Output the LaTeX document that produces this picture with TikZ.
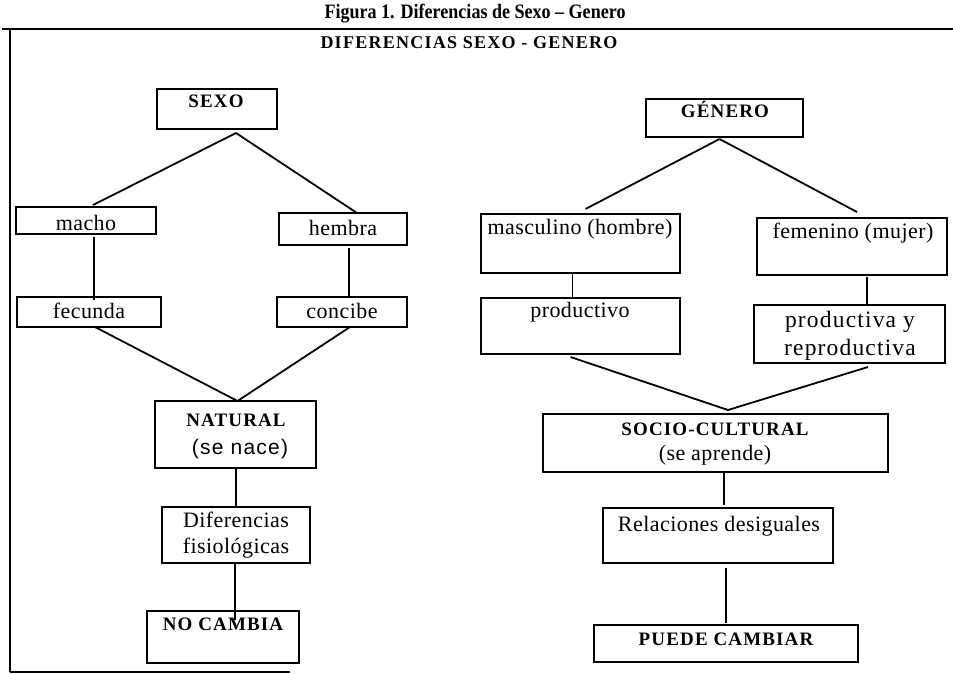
\documentclass[tikz,border=0pt]{standalone}
\usepackage{fontspec}
\usepackage{graphicx}
\setmainfont{Liberation Serif}
\newfontfamily\bodyf[LetterSpace=2]{Liberation Serif}
\newfontfamily\prodf[LetterSpace=5]{Liberation Serif}
\newfontfamily\capsf[LetterSpace=6]{Liberation Serif}
\newfontfamily\subf[LetterSpace=7]{Liberation Serif}
\newfontfamily\sansf[LetterSpace=6]{Liberation Sans}
\usetikzlibrary{fit}
\begin{document}
\begin{tikzpicture}[x=1pt,y=-1pt,
  box/.style={draw, line width=1.8pt, inner sep=0pt, outer sep=0pt},
  conn/.style={line width=1.8pt},
  txt/.style={inner sep=0pt, outer sep=0pt, anchor=base, font=\bodyf\fontsize{22}{26}\selectfont},
  ptxt/.style={inner sep=0pt, outer sep=0pt, anchor=base, font=\prodf\fontsize{23.5}{27}\selectfont},
  capt/.style={inner sep=0pt, outer sep=0pt, anchor=base, font=\capsf\bfseries\fontsize{19}{22}\selectfont},
  stxt/.style={inner sep=0pt, outer sep=0pt, anchor=base, font=\sansf\fontsize{21}{25}\selectfont}]
\useasboundingbox (0,0) rectangle (953,674);

% titles
\node[inner sep=0pt, anchor=base, font=\bfseries\fontsize{20.5}{24}\selectfont] (title) at (475,19) {\scalebox{0.88}[1]{Figura 1. Diferencias de Sexo – Genero}};
\node[inner sep=0pt, anchor=base, font=\subf\bfseries\fontsize{18}{21}\selectfont] (subtitle) at (469,49) {DIFERENCIAS SEXO - GENERO};

% frame
\coordinate (ftl) at (10,29);
\coordinate (ftr) at (953,29);
\coordinate (fts) at (2,29);
\coordinate (fbl) at (10,672);
\coordinate (fbr) at (290,672);
\draw[line width=2.4pt] (fts) -- (ftr);
\draw[line width=2.8pt] (ftl) -- (fbl);
\draw[line width=2pt] (fbl) -- (fbr);

% left tree boxes
\node[box, fit={(157,89) (277,129)}] (sexo) {};
\node[box, fit={(16,207) (156,234)}] (macho) {};
\node[box, fit={(279,213) (407,245)}] (hembra) {};
\node[box, fit={(17,297) (161,327)}] (fecunda) {};
\node[box, fit={(277,297) (407,327)}] (concibe) {};
\node[box, fit={(155,401) (316,468)}] (natural) {};
\node[box, fit={(162,507) (310,563)}] (dif) {};
\node[box, fit={(147,611) (299,663)}] (nocambia) {};

% right tree boxes
\node[box, fit={(646,99) (803,137)}] (genero) {};
\node[box, fit={(481,214) (680,273)}] (masc) {};
\node[box, fit={(757,218) (947,275)}] (fem) {};
\node[box, fit={(481,298) (680,354)}] (prodvo) {};
\node[box, fit={(754,305) (945,363)}] (prodva) {};
\node[box, fit={(543,414) (888,472)}] (socio) {};
\node[box, fit={(603,508) (833,563)}] (rel) {};
\node[box, fit={(594,625) (858,662)}] (puede) {};

% texts left
\node[capt] (sexoT) at (216,108) {SEXO};
\node[txt] (machoT) at (86,230) {macho};
\node[txt] (hembraT) at (343,235) {hembra};
\node[txt] (fecundaT) at (89,318) {fecunda};
\node[txt] (concibeT) at (342,318) {concibe};
\node[capt] (naturalT) at (236,426) {NATURAL};
\node[stxt] (naceT) at (240,454) {(se nace)};
\node[txt] (difT1) at (236,527) {Diferencias};
\node[txt] (difT2) at (236,553) {fisiológicas};
\node[capt] (nocambiaT) at (223,630) {NO CAMBIA};

% texts right
\node[capt] (generoT) at (725,118) {GÉNERO};
\node[txt] (mascT) at (580,234) {masculino (hombre)};
\node[txt] (femT) at (853,238) {femenino (mujer)};
\node[txt] (prodvoT) at (580,317) {productivo};
\node[ptxt] (prodvaT1) at (850,327) {productiva y};
\node[ptxt] (prodvaT2) at (850,355) {reproductiva};
\node[capt] (socioT) at (715,435) {SOCIO-CULTURAL};
\node[txt] (aprendeT) at (715,460) {(se aprende)};
\node[txt] (relT) at (719,531) {Relaciones desiguales};
\node[capt] (puedeT) at (726,645) {PUEDE CAMBIAR};

% connectors left
\draw[conn] ([xshift=19pt,yshift=-4pt]sexo.south) -- ([xshift=7pt,yshift=2pt]macho.north);
\draw[conn] ([xshift=19pt,yshift=-4pt]sexo.south) -- ([xshift=14pt]hembra.north);
\draw[conn] ([xshift=8pt,yshift=-3pt]macho.south) -- ([xshift=8pt,yshift=-3pt]macho.south |- fecunda.north);
\draw[conn] ([xshift=6pt,yshift=-3pt]hembra.south) -- ([xshift=6pt]hembra.south |- concibe.north);
\draw[conn] ([xshift=6pt]fecunda.south) -- ([xshift=2pt]natural.north);
\draw[conn] ([xshift=8pt]concibe.south) -- ([xshift=2pt]natural.north);
\draw[conn] ([xshift=0.5pt]natural.south) -- ([xshift=0.5pt]natural.south |- dif.north);
\draw[conn] ([xshift=-1pt]dif.south) -- ([xshift=-1pt,yshift=-9pt]dif.south |- nocambia.north);

% connectors right
\draw[conn] ([xshift=-5pt,yshift=-2pt]genero.south) -- ([xshift=5pt,yshift=5pt]masc.north);
\draw[conn] ([xshift=-5pt,yshift=-2pt]genero.south) -- ([xshift=5pt,yshift=6pt]fem.north);
\draw[conn] ([xshift=-8pt]masc.south) -- ([xshift=-8pt]masc.south |- prodvo.north);
\draw[conn] ([xshift=15pt,yshift=-2pt]fem.south) -- ([xshift=15pt]fem.south |- prodva.north);
\draw[conn] ([xshift=-10pt,yshift=-3pt]prodvo.south) -- ([xshift=12.5pt,yshift=4pt]socio.north);
\draw[conn] ([xshift=18.5pt,yshift=-4pt]prodva.south) -- ([xshift=12.5pt,yshift=4pt]socio.north);
\draw[conn] ([xshift=8.5pt]socio.south) -- ([xshift=8.5pt,yshift=3pt]socio.south |- rel.north);
\draw[conn] ([xshift=8pt,yshift=-5pt]rel.south) -- ([xshift=8pt,yshift=2pt]rel.south |- puede.north);
\end{tikzpicture}
\end{document}
